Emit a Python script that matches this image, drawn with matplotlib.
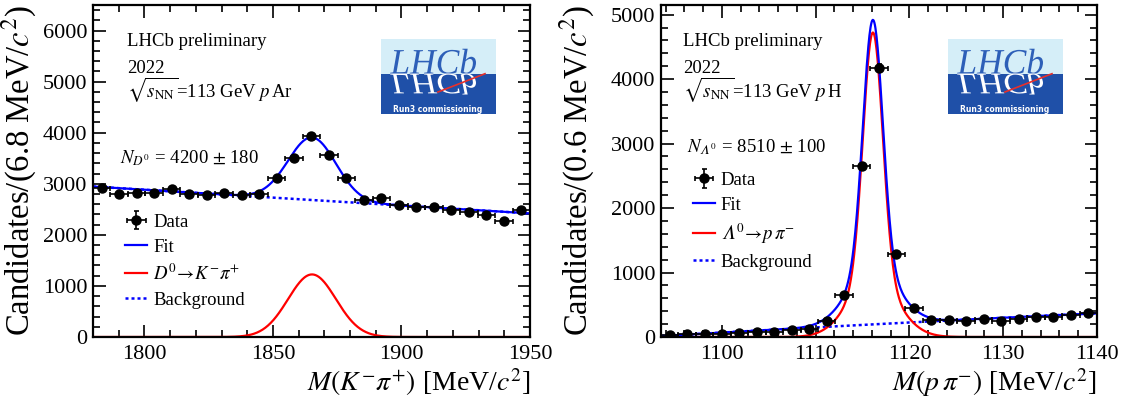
"""
Invariant-mass fits: D0 -> K- pi+ (pAr) and Lambda0 -> p pi- (pH), LHCb 2022.
"""

import numpy as np
import matplotlib
matplotlib.use("Agg")
import matplotlib.pyplot as plt
from matplotlib.font_manager import FontProperties
from matplotlib.textpath import TextPath
from matplotlib.patches import PathPatch, Rectangle
from matplotlib.transforms import Affine2D
from matplotlib.ticker import MultipleLocator

plt.rcParams["font.family"] = ["Liberation Serif", "DejaVu Serif"]
plt.rcParams["mathtext.fontset"] = "stix"

# --- D0 -> K- pi+ ---
D0_RANGE = (1780.0, 1950.0)
D0_COUNTS = [2910, 2790, 2820, 2825, 2900, 2800, 2775, 2825, 2785, 2805,
             3120, 3505, 3930, 3570, 3110, 2680, 2725, 2590, 2540, 2545,
             2495, 2445, 2390, 2275, 2480]
D0_YIELD = 4200
D0_MEAN = 1865.2
D0_SIGMA = 9.3
D0_BKG = (2945.0, 2420.0)  # linear background at both ends of the range

# --- Lambda0 -> p pi- ---
L0_RANGE = (1093.5, 1140.0)
L0_COUNTS = [25, 42, 42, 52, 62, 83, 72, 114, 119, 243,
             646, 2647, 4177, 1293, 445, 269, 260, 250, 285, 250,
             279, 316, 316, 341, 367]
L0_YIELD = 8510
L0_MEAN = 1116.1
L0_SIGMAS = (1.05, 2.6)   # double Gaussian, core + wide
L0_CORE_FRAC = 0.64
L0_BKG_COEF = (15.0, 8.4, -0.0172)  # quadratic in (m - m_min)

BLUE = "#0000ff"
RED = "#ff0000"
LAMBDA = "\U0001D6EC"  # italic capital lambda


def gauss(x, mu, s):
    return np.exp(-0.5 * ((x - mu) / s) ** 2) / (np.sqrt(2 * np.pi) * s)


def draw_logo(rect):
    """LHCb 'Run3 commissioning' logo in figure coords."""
    lax = fig.add_axes(rect)
    lax.set_xlim(0, 115)
    lax.set_ylim(0, 74.4)
    lax.axis("off")
    lax.add_patch(Rectangle((0, 40), 115, 34.4, color="#d5eef8", lw=0))
    lax.add_patch(Rectangle((0, 0), 115, 40, color="#1f50a8", lw=0))
    tp = TextPath((0, 0), "LHCb", size=1,
                  prop=FontProperties(family="Liberation Serif", style="italic"))
    ext = tp.get_extents()
    sx = 86 / ext.width
    up = Affine2D().translate(-ext.x0, 0).scale(sx, 36).translate(9, 40)
    dn = Affine2D().translate(-ext.x0, 0).scale(sx, -30).translate(9, 40)
    lax.add_patch(PathPatch(up.transform_path(tp), color="#2d5fb8", lw=0))
    lax.add_patch(PathPatch(dn.transform_path(tp), color="white", lw=0))
    lax.plot([57, 104], [21.7, 40], color="#e8302a", lw=1.2)
    lax.text(57, 4.5, "Run3 commissioning", color="white", fontsize=5.5,
             fontweight="bold", family="DejaVu Sans", ha="center", va="center")


def draw_panel(ax, rng, counts, signal, bkg, ymax, xmaj, xmin, sig_label,
               ylabel, xlabel, beam, n_text, text_x, n_pos, leg_pos):
    counts = np.array(counts, dtype=float)
    bw = (rng[1] - rng[0]) / len(counts)
    centers = rng[0] + bw * (np.arange(len(counts)) + 0.5)
    xs = np.linspace(rng[0], rng[1], 800)
    s_curve = signal(xs) * bw
    b_curve = bkg(xs)

    ax.plot(xs, b_curve, color=BLUE, lw=1.8, ls=(0, (1.2, 1.2)), label="Background")
    ax.plot(xs, s_curve, color=RED, lw=1.6, label=sig_label)
    ax.plot(xs, s_curve + b_curve, color=BLUE, lw=1.6, label="Fit")
    ax.errorbar(centers, counts, xerr=bw / 2, yerr=np.sqrt(counts), fmt="o",
                color="black", ms=6.5, elinewidth=1.2, capsize=1.8,
                capthick=1.2, label="Data", zorder=5)

    ax.set_xlim(*rng)
    ax.set_ylim(0, ymax)
    ax.xaxis.set_major_locator(MultipleLocator(xmaj))
    ax.xaxis.set_minor_locator(MultipleLocator(xmin))
    ax.yaxis.set_major_locator(MultipleLocator(1000))
    ax.yaxis.set_minor_locator(MultipleLocator(200))
    ax.tick_params(which="both", direction="in", top=True, right=True,
                   labelsize=16, width=1.2)
    ax.tick_params(which="major", length=9)
    ax.tick_params(which="minor", length=4.8)
    ax.tick_params(axis="x", pad=6)
    ax.tick_params(axis="y", pad=4)
    for sp in ax.spines.values():
        sp.set_linewidth(1.6)

    ax.set_ylabel(ylabel, fontsize=23.5, loc="top")
    ax.set_xlabel(xlabel, fontsize=20, loc="right")

    ax.text(text_x, 0.889, "LHCb preliminary", transform=ax.transAxes,
            fontsize=13.5, va="center")
    ax.text(text_x, 0.810, "2022", transform=ax.transAxes, fontsize=13.5,
            va="center")
    ax.text(text_x, 0.744, r"$\sqrt{s_{\rm NN}}$=113 GeV " + beam,
            transform=ax.transAxes, fontsize=13.5, va="center")
    ax.text(n_pos[0], n_pos[1], n_text, transform=ax.transAxes, fontsize=13.5,
            va="center")

    h, l = ax.get_legend_handles_labels()
    order = [3, 2, 1, 0]
    ax.legend([h[i] for i in order], [l[i] for i in order], loc="upper left",
              bbox_to_anchor=leg_pos, frameon=False, fontsize=13.5,
              borderpad=0, borderaxespad=0, handlelength=1.2,
              handletextpad=0.3, labelspacing=0.42)


fig = plt.figure(figsize=(11.29, 4.03), dpi=100)
ax1 = fig.add_axes([93 / 1129, 66 / 403, 437 / 1129, 332 / 403])
ax2 = fig.add_axes([661 / 1129, 66 / 403, 436 / 1129, 332 / 403])

draw_panel(
    ax1, D0_RANGE, D0_COUNTS,
    signal=lambda x: D0_YIELD * gauss(x, D0_MEAN, D0_SIGMA),
    bkg=lambda x: D0_BKG[0] + (D0_BKG[1] - D0_BKG[0]) * (x - D0_RANGE[0]) / (D0_RANGE[1] - D0_RANGE[0]),
    ymax=6500, xmaj=50, xmin=10,
    sig_label=r"$D^0\!\rightarrow\!K^{-}\pi^{+}$",
    ylabel=r"Candidates/(6.8 MeV/$c^2$)",
    xlabel=r"$M(K^{-}\pi^{+})$ [MeV/$c^2$]",
    beam=r"$p\,$Ar",
    n_text=r"$N_{D^0}$ = 4200 $\pm$ 180",
    text_x=0.077, n_pos=(0.062, 0.539), leg_pos=(0.073, 0.372),
)
draw_panel(
    ax2, L0_RANGE, L0_COUNTS,
    signal=lambda x: L0_YIELD * (L0_CORE_FRAC * gauss(x, L0_MEAN, L0_SIGMAS[0])
                                 + (1 - L0_CORE_FRAC) * gauss(x, L0_MEAN, L0_SIGMAS[1])),
    bkg=lambda x: np.polyval(L0_BKG_COEF[::-1], x - L0_RANGE[0]),
    ymax=5150, xmaj=10, xmin=2,
    sig_label="$" + LAMBDA + r"^0\!\rightarrow\!p\,\pi^{-}$",
    ylabel=r"Candidates/(0.6 MeV/$c^2$)",
    xlabel=r"$M(p\,\pi^{-})$ [MeV/$c^2$]",
    beam=r"$p\,$H",
    n_text="$N_{" + LAMBDA + r"^0}$ = 8510 $\pm$ 100",
    text_x=0.050, n_pos=(0.059, 0.573), leg_pos=(0.073, 0.498),
)
ax1.yaxis.set_label_coords(-0.124, 1.0)
ax2.yaxis.set_label_coords(-0.147, 1.0)
ax1.xaxis.set_label_coords(1.0, -0.087)
ax2.xaxis.set_label_coords(1.0, -0.087)

draw_logo([381 / 1129, (403 - 113.7) / 403, 115 / 1129, 74.4 / 403])
draw_logo([948 / 1129, (403 - 113.7) / 403, 115 / 1129, 74.4 / 403])

fig.savefig("out.png", dpi=100)
